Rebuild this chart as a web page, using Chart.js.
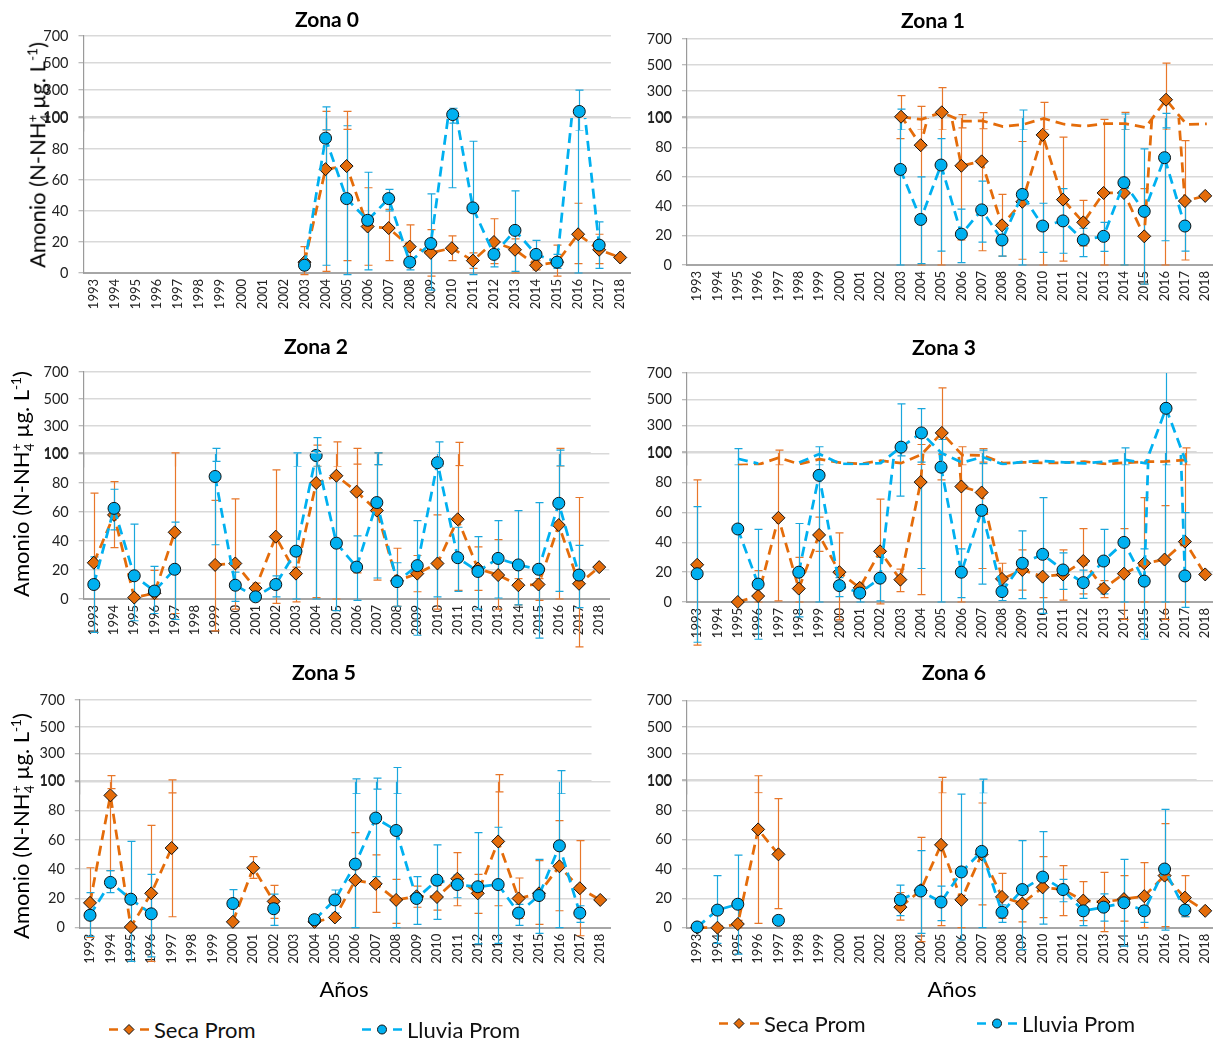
<!DOCTYPE html>
<html lang="es">
<head>
<meta charset="utf-8">
<title>Amonio por zona</title>
<script src="https://cdn.jsdelivr.net/npm/chart.js@4.4.1/dist/chart.umd.min.js"></script>
<style>
  html, body { margin:0; padding:0; background:#fff; overflow:hidden; }
  body { position:relative; width:1213px; height:1040px; font-family: Lato, "Open Sans", sans-serif; color:#111; }
  canvas { position:absolute; }
  .t { position:absolute; transform:translate(-50%,-50%); white-space:nowrap; z-index:20; }
  .title { font-weight:700; font-size:21px; color:#000; }
  .ytitle { font-size:22px; transform:translate(-50%,-50%) rotate(-90deg); color:#000; }
  .xtitle { font-size:22px; color:#000; }
  .leg { position:absolute; display:flex; align-items:center; transform:translateY(-50%); font-size:22px; white-space:nowrap; color:#111; z-index:20; }
  .leg svg { margin-right:5px; }
  .ss { display:inline-block; vertical-align:middle; line-height:0.95; font-size:0.62em; text-align:left; }
  .ss span { display:block; }
</style>
</head>
<body>
<script>
// ---------------- DATA ----------------
const years = ['1993','1994','1995','1996','1997','1998','1999','2000','2001','2002','2003','2004','2005',
               '2006','2007','2008','2009','2010','2011','2012','2013','2014','2015','2016','2017','2018'];
const lowerTicks = [0, 20, 40, 60, 80, 100];
const upperTicks = [100, 300, 500, 700];

// Zona 0
const z0SecaMean   = [null,null,null,null,null,null,null,null,null,null, 7, 67, 69, 30, 29, 17, 13, 16, 8, 20, 15, 5, 7, 25, 15, 10];
const z0SecaLo     = [null,null,null,null,null,null,null,null,null,null, -1, 1, 8, 5, 8, 6, -2, 8, 3, 6, 0, 2, -2, 6, 6, null];
const z0SecaHi     = [null,null,null,null,null,null,null,null,null,null, 17, 141, 141, 55, 41, 31, 28, 24, 13, 35, 22, 8, 18, 45, 25, null];
const z0LluviaMean = [null,null,null,null,null,null,null,null,null,null, 5, 87, 48, 34, 48, 7, 19, 118, 42, 12, 27.5, 12, 7, 141, 18, null];
const z0LluviaLo   = [null,null,null,null,null,null,null,null,null,null, 2, 5, -1, 2, 40, 2, -11, 55, -1, 4, 1, 4, 3, 0, 3, null];
const z0LluviaHi   = [null,null,null,null,null,null,null,null,null,null, 8, 175, 95, 65, 54, 10, 51, 165, 85, 19, 53, 21, 12, 299, 33, null];

// Zona 1
const z1SecaMean   = [null,null,null,null,null,null,null,null,null,null, 102, 81.5, 136, 67.5, 70.5, 27, 43, 88.5, 44.5, 29, 49, 49, 19.5, 233, 43.5, 47];
const z1SecaLo     = [null,null,null,null,null,null,null,null,null,null, 86, 0, 0, 17, 9.7, 6, 3.9, 0, 2.7, 13, 0, 0, -13, 0, 3.4, null];
const z1SecaHi     = [null,null,null,null,null,null,null,null,null,null, 264, 182, 326, 118, 133, 48, 84, 213, 87, 44, 99, 136, 52, 515, 84.6, null];
const z1LluviaMean = [null,null,null,null,null,null,null,null,null,null, 65, 31, 68, 21, 37.5, 17, 48, 26.5, 30, 17, 19.5, 56, 36.5, 73, 26.5, null];
const z1LluviaLo   = [null,null,null,null,null,null,null,null,null,null, 0, 1, 9.5, 1.6, 15.6, 6, 0, 8.6, 8, 5.7, 9.3, 0, -13, 16.5, 9.5, null];
const z1LluviaHi   = [null,null,null,null,null,null,null,null,null,null, 161, 60, 86, 38, 57, 25, 154, 42, 52, 25, 29, 123, 79, 128, 43, null];

// Zona 2
const z2SecaMean   = [25, 58, 1, 4, 46, null, 23.5, 24.5, 7.5, 43, 17.5, 80, 85, 74, 61, 12.5, 17.5, 24.5, 55, 21, 16.5, 9.5, 10, 51, 10.5, 22];
const z2SecaLo     = [-23, 35.5, 0, 0, -10, null, -22, -7, 4, -3, -2, 1, 0, 18, 13, -5, 5, -7, 6, 6, -7, -4, -1, 0, -33, null];
const z2SecaHi     = [73, 81, 3, 19.7, 101, null, 68, 69, 11, 89, 22, 158, 182, 134, 101, 35, 30, 58, 178, 36, 41, 14, 14, 134, 70, null];
const z2LluviaMean = [10, 62.5, 16, 5.5, 20.5, null, 84.5, 9.5, 1.5, 10, 33, 99, 38.5, 22, 66.5, 12, 23, 94, 28.5, 19, 28, 23.5, 20.5, 66, 16.5, null];
const z2LluviaLo   = [-23, 47.7, -15, -10, -14, null, 37.4, -1.6, 0, 1.4, 0, 0, -8, -1, 14.5, -5, -25, 1.4, 5.3, -7, 0.7, -4, -27, 5.3, -6, null];
const z2LluviaHi   = [29, 75.7, 51.6, 22.5, 53, null, 134, 18.6, 4, 16, 101, 214, 85, 43.6, 101, 25, 54, 182, 49.5, 43, 54, 61, 66.5, 122, 37, null];

// Zona 3
const z3SecaMean   = [25, null, 0, 4, 56.5, 9, 45, 20, 9.5, 34, 15, 80.5, 245, 77.5, 73.5, 15.5, 21.5, 17, 18.5, 27.5, 9, 19, 26, 28.5, 40.5, 18.5];
const z3SecaLo     = [-29, null, null, 0, 0.7, 0, 34, -12, 6, -1.3, 7, 5, 82, 0, 22.5, 5, 8, 3, 1.3, 5.4, 3, -11.6, 0, -11.6, 0, null];
const z3SecaHi     = [82, null, null, 21, 115, 30, 57, 46.4, 12, 69, 22, 157, 587, 140, 125, 26, 35, 30, 35, 49.3, 14.3, 49.3, 70, 64.7, 132, null];
const z3LluviaMean = [19, null, 49, 12, null, 20, 85, 11, 6, 16, 137, 245, 90.5, 20, 61.5, 7, 26, 32, 21.5, 13, 27.5, 40, 14, 432, 17.5, null];
const z3LluviaLo   = [-27, null, 0, -25, null, -10, 0, 3.6, 0, 0.7, 71, 22.5, 0, 3, 12, 1, 2.2, -7.6, 8.5, 2.5, 5.4, 0, -25, 0, -3.6, null];
const z3LluviaHi   = [64, null, 125, 48.7, null, 52.7, 140, 16.3, 8, 30, 465, 430, 195, 35.7, 115, 12, 47.8, 70, 33, 21.4, 48.7, 132, 35.7, 800, 60, null];

// Zona 5
const z5SecaMean   = [17, 90.5, 0.5, 23.5, 54.5, null, null, 4, 41, 18, null, 4, 7, 32.5, 30, 19, 21.5, 21, 33.5, 23.5, 59, 20, 23.5, 42, 27, 19];
const z5SecaLo     = [-6.6, 39, null, -23, 7.5, null, null, null, 33.8, 6.4, null, null, 6, 0, 10.5, 3, 14, 12, 15, 9.8, 15, 6.4, 2.3, 11.6, -5.5, null];
const z5SecaHi     = [41, 137, null, 70, 105, null, null, null, 48.6, 29, null, null, 8, 65, 49.8, 33, 28.5, 29, 51.4, 36.5, 144, 34, 45.9, 73.3, 59.6, null];
const z5LluviaMean = [8.5, 31, 19.5, 9.5, null, null, null, 16.5, null, 13, null, 5.5, 19, 43.5, 75, 66.5, 20, 32.5, 29.5, 28, 29.5, 10, 22, 56, 10, null];
const z5LluviaLo   = [-6, 24, -23, -20, null, null, null, 5, null, 1.6, null, 4, 10, 0, 35, 0, 2.3, 5.7, 20.5, -11, -10.7, 1.6, -3.9, 0, 3.7, null];
const z5LluviaHi   = [24, 39, 59, 36.5, null, null, null, 26, null, 23, null, 7, 25.8, 112, 117, 197, 35, 56.6, 36, 65, 68.7, 16, 46.8, 173, 15, null];

// Zona 6
const z6SecaMean   = [0, 0, 2.5, 67, 50, null, null, null, null, null, 14, 25.5, 56.5, 19, 50, 21, 16.5, 27.5, 26, 18.5, 17.5, 19.5, 21.5, 35.5, 20.5, 11.5];
const z6SecaLo     = [null, null, 0, 3, 13, null, null, null, null, null, 5.2, -9.5, 1.4, 0, 15.5, 6.4, 4, 6.8, 8.2, 4.8, -2.7, 4.5, 0, 0.7, 7.5, null];
const z6SecaHi     = [null, null, 5, 132, 88, null, null, null, null, null, 24, 61.6, 120, 22, 85, 37, 23, 48.4, 42.3, 31.4, 37.7, 35.5, 44.3, 71, 35.5, null];
const z6LluviaMean = [0.5, 12, 16, null, 5, null, null, null, null, null, 19, 25, 17.5, 38, 52, 10.5, 26, 34.5, 26, 11.5, 14, 17, 11.5, 40, 12, null];
const z6LluviaLo   = [null, -10.7, -18, null, 3, null, null, null, null, null, 8.2, -3.9, 4.8, -8.4, 0, 3.6, -15, 2.5, 17.7, 1.4, 4.5, -12.5, 3.6, -1.6, 7.5, null];
const z6LluviaHi   = [null, 35.5, 49.5, null, 7, null, null, null, null, null, 29, 52.5, 28.4, 91, 107, 15.5, 59.3, 65.5, 33, 14, 23, 46.6, 15, 80.7, 15.5, null];

// ---------------- STYLE / LAYOUT ----------------
const FONT = 'Lato, "Open Sans", sans-serif';
Chart.defaults.font.family = FONT;
Chart.defaults.color = '#222';

const SECA = { line: '#E46C0A', fill: '#E46C0A', err: '#E8772A', style: 'rectRot', radius: 6.5 };
const LLUV = { line: '#00B0F0', fill: '#00B0F0', err: '#1AA7DD', style: 'circle', radius: 6 };

const panels = [
  { name:'Zona 0', s:[z0SecaMean, z0SecaLo, z0SecaHi], l:[z0LluviaMean, z0LluviaLo, z0LluviaHi],
    box:{ L:83.5, R:632, y700:36, y100:118, y0:273, upperCats:25 }, ghost:{ seca:false, lluvia:false } },
  { name:'Zona 1', s:[z1SecaMean, z1SecaLo, z1SecaHi], l:[z1LluviaMean, z1LluviaLo, z1LluviaHi],
    box:{ L:687, R:1217, y700:39, y100:118, y0:265, upperCats:26 }, ghost:{ seca:true, lluvia:false } },
  { name:'Zona 2', s:[z2SecaMean, z2SecaLo, z2SecaHi], l:[z2LluviaMean, z2LluviaLo, z2LluviaHi],
    box:{ L:83.7, R:611, y700:372, y100:454, y0:599, upperCats:25 }, ghost:{ seca:false, lluvia:false } },
  { name:'Zona 3', s:[z3SecaMean, z3SecaLo, z3SecaHi], l:[z3LluviaMean, z3LluviaLo, z3LluviaHi],
    box:{ L:687, R:1217, y700:373, y100:453, y0:602, upperCats:25 }, ghost:{ seca:true, lluvia:true } },
  { name:'Zona 5', s:[z5SecaMean, z5SecaLo, z5SecaHi], l:[z5LluviaMean, z5LluviaLo, z5LluviaHi],
    box:{ L:79.8, R:612, y700:700, y100:781.5, y0:927.7, upperCats:25 }, ghost:{ seca:false, lluvia:false } },
  { name:'Zona 6', s:[z6SecaMean, z6SecaLo, z6SecaHi], l:[z6LluviaMean, z6LluviaLo, z6LluviaHi],
    box:{ L:687, R:1217, y700:700.5, y100:781, y0:927.7, upperCats:25 }, ghost:{ seca:false, lluvia:false } }
];

// ---------------- PLUGIN: error bars ----------------
const errorBars = {
  id: 'errorBars',
  beforeDatasetsDraw(chart, args, opts) {
    const { ctx, chartArea: a, scales: { x, y } } = chart;
    ctx.save();
    ctx.beginPath();
    const bottom = opts.upper ? a.bottom : chart.height;
    ctx.rect(a.left - 20, a.top, a.right - a.left + 60, bottom - a.top);
    ctx.clip();
    const list = chart.data.datasets.filter(d => d.errLo).sort((p, q) => q.order - p.order);
    for (const d of list) {
      ctx.strokeStyle = d.errColor;
      ctx.lineWidth = 1.2;
      ctx.beginPath();
      for (let i = 0; i < d.data.length; i++) {
        const lo = d.errLo[i], hi = d.errHi[i];
        if (lo == null || hi == null || d.data[i] == null) continue;
        if (opts.upper && hi <= 100) continue;
        const px = Math.round(x.getPixelForValue(i)) + 0.5;
        const yLo = y.getPixelForValue(lo), yHi = y.getPixelForValue(hi);
        ctx.moveTo(px, yLo); ctx.lineTo(px, yHi);
        ctx.moveTo(px - 4, yLo); ctx.lineTo(px + 4, yLo);
        ctx.moveTo(px - 4, yHi); ctx.lineTo(px + 4, yHi);
      }
      ctx.stroke();
    }
    ctx.restore();
  }
};

function addCanvas(left, top, w, h, z) {
  const c = document.createElement('canvas');
  c.width = w; c.height = h;
  c.style.left = left + 'px'; c.style.top = top + 'px';
  c.style.width = w + 'px'; c.style.height = h + 'px';
  c.style.zIndex = z;
  document.body.appendChild(c);
  return c;
}

function seriesSets(series, st, ghost, upper, bandPx, orderBase, labelName) {
  const [mean, lo, hi] = series;
  const line = {
    label: labelName, data: mean, order: orderBase + 1,
    borderColor: st.line, borderWidth: 2.75, borderDash: [10, 6], pointRadius: 0,
    fill: false, tension: 0, spanGaps: false,
    clip: upper ? { left: 20, right: 20, top: 0, bottom: ghost ? 0 : -bandPx }
                : { left: 20, right: 20, top: 0, bottom: 20 }
  };
  const pts = {
    label: labelName, data: mean, order: orderBase, showLine: false,
    pointStyle: st.style,
    pointRadius: upper ? (c => (c.raw != null && c.raw >= 100) ? st.radius : 0)
                       : (c => (c.raw != null && c.raw <= 100) ? st.radius : 0),
    pointBackgroundColor: st.fill, pointBorderColor: '#111', pointBorderWidth: 1,
    errLo: lo, errHi: hi, errColor: st.err,
    clip: { left: 20, right: 20, top: upper ? 0 : 9, bottom: 20 }
  };
  return [line, pts];
}

function yAxis(min, max, ticks, YW) {
  return {
    type: 'linear', min, max,
    afterBuildTicks: s => { s.ticks = ticks.map(v => ({ value: v })); },
    grid: { color: '#D9D9D9', lineWidth: 1.5, drawTicks: true, tickLength: 5, tickColor: '#A6A6A6', tickWidth: 1 },
    border: { display: true, color: '#9A9A9A', width: 1.2 },
    ticks: { padding: 10, font: { size: 14.5 }, color: '#222' },
    afterFit: s => { s.width = YW; }
  };
}

function buildPanel(p) {
  const b = p.box;
  const n = years.length;
  const catW = (b.R - b.L) / n;
  const YW = 60, padR = 10;
  const cLeft = Math.round(b.L - YW);
  const cTop = Math.round(b.y700 - 20);
  const cW = Math.ceil(b.R - cLeft + padR);
  const cH = Math.ceil(b.y0 - cTop + 50);
  const XH = cH - (b.y0 - cTop);
  const yL = b.L - cLeft;
  const y100u = b.y100 - 1;
  const k = (y100u - b.y700) / 600;
  const y0top = y100u + 100 * k;
  const bandPx = y0top - y100u;
  const uEnd = b.L + b.upperCats * catW;

  // ---- lower chart (0-100)
  const cl = addCanvas(cLeft, cTop, cW, cH, 1);
  new Chart(cl, {
    type: 'line',
    data: {
      labels: years,
      datasets: [
        ...seriesSets(p.l, LLUV, false, false, 0, 0, 'Lluvia Prom'),
        ...seriesSets(p.s, SECA, false, false, 0, 2, 'Seca Prom')
      ]
    },
    options: {
      responsive: false, animation: false, devicePixelRatio: 1, events: [],
      layout: { padding: { left: 0, top: b.y100 - cTop, right: cW - (b.R - cLeft), bottom: 0 } },
      plugins: { legend: { display: false }, tooltip: { enabled: false }, errorBars: { upper: false } },
      scales: {
        x: {
          type: 'category', offset: true,
          grid: { display: false, drawTicks: false },
          border: { display: true, color: '#A6A6A6', width: 2 },
          ticks: { autoSkip: false, minRotation: 90, maxRotation: 90, padding: 6, font: { size: 13 }, color: '#222' },
          afterFit: s => { s.height = XH; }
        },
        y: yAxis(0, 100, lowerTicks, yL)
      }
    },
    plugins: [errorBars]
  });

  // ---- upper chart (100-700)
  const cu = addCanvas(cLeft, cTop, cW, cH, 2);
  const uLabels = years.slice(0, b.upperCats);
  const cut = s => [s[0].slice(0, b.upperCats), s[1].slice(0, b.upperCats), s[2].slice(0, b.upperCats)];
  new Chart(cu, {
    type: 'line',
    data: {
      labels: uLabels,
      datasets: [
        ...seriesSets(cut(p.l), LLUV, p.ghost.lluvia, true, bandPx, 0, 'Lluvia Prom'),
        ...seriesSets(cut(p.s), SECA, p.ghost.seca, true, bandPx, 2, 'Seca Prom')
      ]
    },
    options: {
      responsive: false, animation: false, devicePixelRatio: 1, events: [],
      layout: { padding: { left: 0, top: b.y700 - cTop, right: cW - (uEnd - cLeft), bottom: cH - (y0top - cTop) } },
      plugins: { legend: { display: false }, tooltip: { enabled: false }, errorBars: { upper: true } },
      scales: {
        x: { type: 'category', offset: true, display: false },
        y: yAxis(0, 700, upperTicks, yL)
      }
    },
    plugins: [errorBars]
  });
}

panels.forEach(buildPanel);

// ---------------- TEXT OVERLAYS ----------------
function addText(cls, html, x, y) {
  const d = document.createElement('div');
  d.className = 't ' + cls;
  d.innerHTML = html;
  d.style.left = x + 'px'; d.style.top = y + 'px';
  document.body.appendChild(d);
}
const titlePos = [[327, 18], [933, 19], [316, 345], [944, 346], [324, 671], [954, 671]];
panels.forEach((p, i) => addText('title', p.name, titlePos[i][0], titlePos[i][1]));

const yTitle = 'Amonio (N-NH<span class="ss"><span>+</span><span>4</span></span> µg. L<sup style="font-size:0.62em">-1</sup>)';
addText('ytitle', yTitle, 38, 155);
addText('ytitle', yTitle, 22, 484);
addText('ytitle', yTitle, 22, 826);

addText('xtitle', 'Años', 344, 988);
addText('xtitle', 'Años', 952, 988);

function legendItem(x, y, st, text) {
  const d = document.createElement('div');
  d.className = 'leg';
  d.style.left = x + 'px'; d.style.top = y + 'px';
  const marker = st.style === 'circle'
    ? `<circle cx="20" cy="8" r="4.5" fill="${st.fill}" stroke="#111" stroke-width="1"/>`
    : `<polygon points="20,3 25,8 20,13 15,8" fill="${st.fill}" stroke="#111" stroke-width="1"/>`;
  d.innerHTML = `<svg width="40" height="16" viewBox="0 0 40 16">
      <line x1="0" y1="8" x2="9" y2="8" stroke="${st.line}" stroke-width="2.5"/>
      <line x1="31" y1="8" x2="40" y2="8" stroke="${st.line}" stroke-width="2.5"/>
      ${marker}</svg><span>${text}</span>`;
  document.body.appendChild(d);
}
legendItem(109, 1029, SECA, 'Seca Prom');
legendItem(362, 1029, LLUV, 'Lluvia Prom');
legendItem(719, 1023, SECA, 'Seca Prom');
legendItem(977, 1023, LLUV, 'Lluvia Prom');
</script>
</body>
</html>
